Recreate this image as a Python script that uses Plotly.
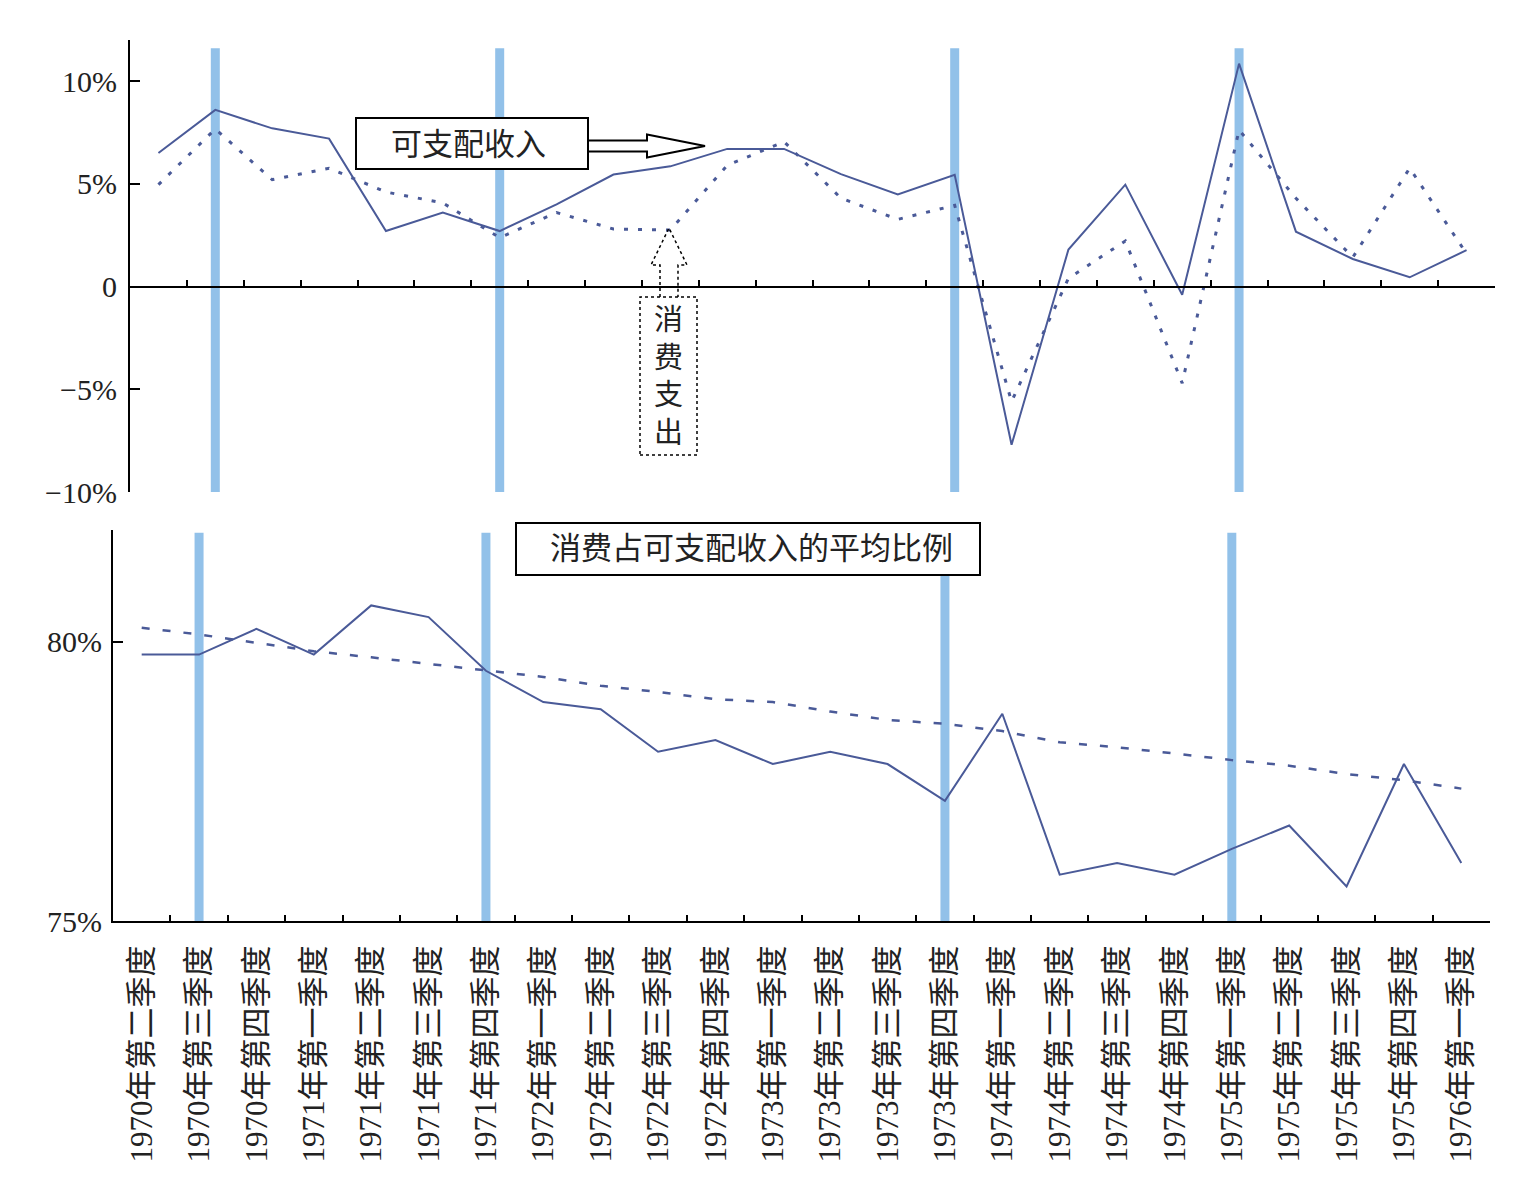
import plotly.graph_objects as go

quarters = ['1970年第二季度', '1970年第三季度', '1970年第四季度',
            '1971年第一季度', '1971年第二季度', '1971年第三季度', '1971年第四季度',
            '1972年第一季度', '1972年第二季度', '1972年第三季度', '1972年第四季度',
            '1973年第一季度', '1973年第二季度', '1973年第三季度', '1973年第四季度',
            '1974年第一季度', '1974年第二季度', '1974年第三季度', '1974年第四季度',
            '1975年第一季度', '1975年第二季度', '1975年第三季度', '1975年第四季度',
            '1976年第一季度']

income_growth = [6.5, 8.6, 7.7, 7.2, 2.7, 3.6, 2.7, 4.0, 5.45, 5.85, 6.7, 6.7,
                 5.47, 4.48, 5.44, -7.7, 1.8, 4.96, -0.4, 10.85, 2.67, 1.34, 0.45, 1.77]
consumption_growth = [4.96, 7.67, 5.2, 5.76, 4.6, 4.07, 2.38, 3.6, 2.8, 2.75, 5.9, 7.05,
                      4.3, 3.27, 3.95, -5.6, 0.4, 2.22, -4.7, 7.62, 4.3, 1.42, 5.76, 1.6]
consumption_ratio = [79.77, 79.77, 80.23, 79.77, 80.65, 80.44, 79.48, 78.92, 78.79, 78.03,
                     78.24, 77.81, 78.03, 77.81, 77.15, 78.71, 75.83, 76.04, 75.83, 76.29,
                     76.71, 75.62, 77.81, 76.04]
ratio_trend = [80.25, 80.13, 79.98, 79.83, 79.72, 79.6, 79.48, 79.37, 79.21, 79.1, 78.97,
               78.92, 78.75, 78.6, 78.53, 78.4, 78.2, 78.11, 78.0, 77.88, 77.78, 77.63,
               77.52, 77.37]
recession_marks = ['1970年第三季度', '1971年第四季度', '1973年第四季度', '1975年第一季度']

top_ticks = [-10, -5, 0, 5, 10]
top_ticktext = ['−10%', '−5%', '0', '5%', '10%']
bottom_ticks = [75, 80]
bottom_ticktext = ['75%', '80%']

W, H = 1538, 1186
FONT = '"Liberation Serif", "Times New Roman", "Noto Sans CJK SC", serif'
LINE = '#4a5a98'
BAR = '#92c1e9'
TXT = '#222222'


def px(x):
    return x / W


def py(y):
    return 1 - y / H


top_dom = [py(492), py(40)]
bot_dom = [py(921), py(530)]
top_range = [-10, 12]
zero_pos = top_dom[0] + (0 - top_range[0]) / (top_range[1] - top_range[0]) * (top_dom[1] - top_dom[0])
cat_range = [-0.5, len(quarters) - 0.5]

fig = go.Figure()
fig.add_trace(go.Scatter(x=quarters, y=income_growth, mode='lines',
                         line=dict(color=LINE, width=2), xaxis='x', yaxis='y',
                         name='可支配收入'))
fig.add_trace(go.Scatter(x=quarters, y=consumption_growth, mode='lines',
                         line=dict(color=LINE, width=3, dash='4px,10px'), xaxis='x', yaxis='y',
                         name='消费支出'))
fig.add_trace(go.Scatter(x=quarters, y=consumption_ratio, mode='lines',
                         line=dict(color=LINE, width=2), xaxis='x2', yaxis='y2',
                         name='消费占可支配收入的比例'))
fig.add_trace(go.Scatter(x=quarters, y=ratio_trend, mode='lines',
                         line=dict(color=LINE, width=2.5, dash='8px,13px'), xaxis='x2', yaxis='y2',
                         name='平均比例'))

shapes = []
for q in recession_marks:
    shapes.append(dict(type='line', xref='x', yref='y', x0=q, x1=q, y0=-10, y1=11.6,
                       line=dict(color=BAR, width=9), layer='below'))
    shapes.append(dict(type='line', xref='x2', yref='y2', x0=q, x1=q, y0=75, y1=81.95,
                       line=dict(color=BAR, width=9), layer='below'))

# box + arrow for 可支配收入
shapes.append(dict(type='rect', xref='paper', yref='paper', x0=px(356), x1=px(588),
                   y0=py(169), y1=py(118), line=dict(color='black', width=2),
                   fillcolor='white', layer='above'))
arrow_pts = [(588, 140.5), (647, 140.5), (647, 134.5), (705, 146), (647, 157.5),
             (647, 151.5), (588, 151.5)]
path = 'M ' + ' L '.join(f'{px(a):.5f},{py(b):.5f}' for a, b in arrow_pts) + ' Z'
shapes.append(dict(type='path', xref='paper', yref='paper', path=path,
                   line=dict(color='black', width=2), fillcolor='white', layer='above'))

# dotted box + arrow for 消费支出
shapes.append(dict(type='rect', xref='paper', yref='paper', x0=px(640), x1=px(697),
                   y0=py(455), y1=py(297), line=dict(color='black', width=1.5, dash='dot'),
                   fillcolor='white', layer='above'))
up_pts = [(660, 297), (660, 265), (651, 265), (669, 228), (687, 265), (678, 265), (678, 297)]
path2 = 'M ' + ' L '.join(f'{px(a):.5f},{py(b):.5f}' for a, b in up_pts)
shapes.append(dict(type='path', xref='paper', yref='paper', path=path2,
                   line=dict(color='black', width=1.5, dash='dot'), layer='above'))

# bottom title box
shapes.append(dict(type='rect', xref='paper', yref='paper', x0=px(516), x1=px(980),
                   y0=py(575), y1=py(523), line=dict(color='black', width=2),
                   fillcolor='white', layer='above'))

annotations = [
    dict(xref='paper', yref='paper', x=px(468), y=py(145), text='可支配收入',
         showarrow=False, font=dict(family=FONT, size=31, color=TXT),
         xanchor='center', yanchor='middle'),
    dict(xref='paper', yref='paper', x=px(668.5), y=py(377), text='消<br>费<br>支<br>出',
         showarrow=False, font=dict(family=FONT, size=29, color=TXT),
         xanchor='center', yanchor='middle'),
    dict(xref='paper', yref='paper', x=px(751), y=py(548), text='消费占可支配收入的平均比例',
         showarrow=False, font=dict(family=FONT, size=31, color=TXT),
         xanchor='center', yanchor='middle'),
]

fig.update_layout(
    width=W, height=H, autosize=False,
    margin=dict(l=0, r=0, t=0, b=0, pad=0, autoexpand=False),
    paper_bgcolor='white', plot_bgcolor='white',
    showlegend=False,
    font=dict(family=FONT, size=30, color=TXT),
    shapes=shapes, annotations=annotations,
    xaxis=dict(domain=[px(130), px(1495)], anchor='free', position=zero_pos,
               type='category', categoryorder='array', categoryarray=quarters,
               range=cat_range, automargin=False,
               showline=True, linecolor='black', linewidth=2,
               ticks='inside', ticklen=6, tickwidth=1.5, tickcolor='black',
               tickson='boundaries', showticklabels=False, showgrid=False, zeroline=False),
    yaxis=dict(domain=top_dom, anchor='x', range=top_range, automargin=False,
               tickvals=top_ticks, ticktext=top_ticktext,
               showline=True, linecolor='black', linewidth=2,
               ticks='inside', ticklen=10, tickwidth=2, tickcolor='black',
               ticklabelstandoff=5,
               showgrid=False, zeroline=False, tickfont=dict(family=FONT, size=30, color=TXT)),
    xaxis2=dict(domain=[px(113), px(1490)], anchor='y2',
                type='category', categoryorder='array', categoryarray=quarters,
                range=cat_range, automargin=False,
                showline=True, linecolor='black', linewidth=2,
                ticks='inside', ticklen=6, tickwidth=1.5, tickcolor='black',
                tickson='boundaries', tickangle=-90, dtick=1,
                ticklabelstandoff=10,
                showgrid=False, zeroline=False, tickfont=dict(family=FONT, size=31, color=TXT)),
    yaxis2=dict(domain=bot_dom, anchor='x2', range=[75, 82], automargin=False,
                tickvals=bottom_ticks, ticktext=bottom_ticktext,
                showline=True, linecolor='black', linewidth=2,
                ticks='inside', ticklen=10, tickwidth=2, tickcolor='black',
                ticklabelstandoff=3,
                showgrid=False, zeroline=False, tickfont=dict(family=FONT, size=30, color=TXT)),
)

fig.write_html('out.html')
